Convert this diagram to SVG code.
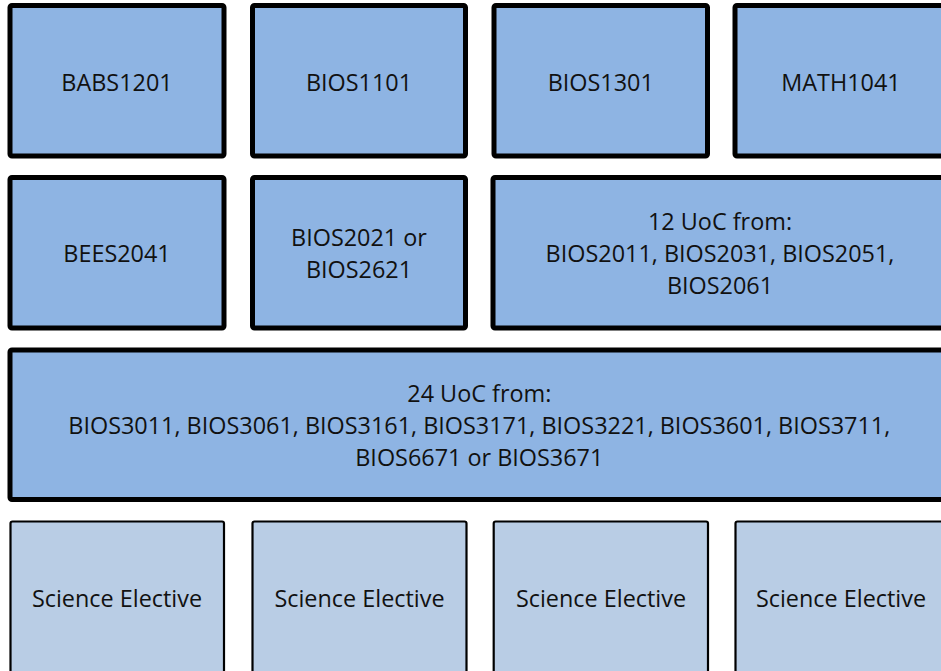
<svg xmlns="http://www.w3.org/2000/svg" width="941" height="671" viewBox="0 0 941 671">
<style>
.core{fill:#8EB4E3;stroke:#000;stroke-width:5}
.elec{fill:#B9CDE5;stroke:#000;stroke-width:2.2}
text{font-family:"Open Sans","Liberation Sans",sans-serif;font-size:23.4px;fill:#111;text-anchor:middle}
</style>
<rect width="941" height="671" fill="#fff"/>
<g id="connectors"></g>
<g id="babs1201"><rect class="core" x="10" y="5.5" width="214" height="150.5" rx="2"/><text x="117" y="90.5">BABS1201</text></g>
<g id="bios1101"><rect class="core" x="252.5" y="5.5" width="213" height="150.5" rx="2"/><text x="359" y="90.5">BIOS1101</text></g>
<g id="bios1301"><rect class="core" x="494" y="5.5" width="213.5" height="150.5" rx="2"/><text x="600.75" y="90.5">BIOS1301</text></g>
<g id="math1041"><rect class="core" x="735" y="5.5" width="212" height="150.5" rx="2"/><text x="841" y="90.5">MATH1041</text></g>
<g id="bees2041"><rect class="core" x="10" y="177.5" width="214" height="150.5" rx="2"/><text x="117" y="261.5">BEES2041</text></g>
<g id="bios2021"><rect class="core" x="252.5" y="177.5" width="213" height="150.5" rx="2"/><text x="359"><tspan x="359" y="245.8">BIOS2021 or</tspan><tspan x="359" y="277.8">BIOS2621</tspan></text></g>
<g id="uoc12"><rect class="core" x="493" y="177.5" width="454" height="150.5" rx="2"/><text x="720"><tspan x="720" y="230.3">12 UoC from:</tspan><tspan x="720" y="262">BIOS2011, BIOS2031, BIOS2051,</tspan><tspan x="720" y="293.6">BIOS2061</tspan></text></g>
<g id="uoc24"><rect class="core" x="10" y="350" width="937" height="149.5" rx="2"/><text x="479.3"><tspan x="479.3" y="402">24 UoC from:</tspan><tspan x="479.3" y="433.6">BIOS3011, BIOS3061, BIOS3161, BIOS3171, BIOS3221, BIOS3601, BIOS3711,</tspan><tspan x="479.3" y="465.8">BIOS6671 or BIOS3671</tspan></text></g>
<g id="elective1"><rect class="elec" x="10.5" y="521.5" width="213.5" height="155" rx="2"/><text x="117" y="607">Science Elective</text></g>
<g id="elective2"><rect class="elec" x="252.5" y="521.5" width="214" height="155" rx="2"/><text x="359.5" y="607">Science Elective</text></g>
<g id="elective3"><rect class="elec" x="493.7" y="521.5" width="214.3" height="155" rx="2"/><text x="601" y="607">Science Elective</text></g>
<g id="elective4"><rect class="elec" x="735.5" y="521.5" width="212" height="155" rx="2"/><text x="841" y="607">Science Elective</text></g>
</svg>
